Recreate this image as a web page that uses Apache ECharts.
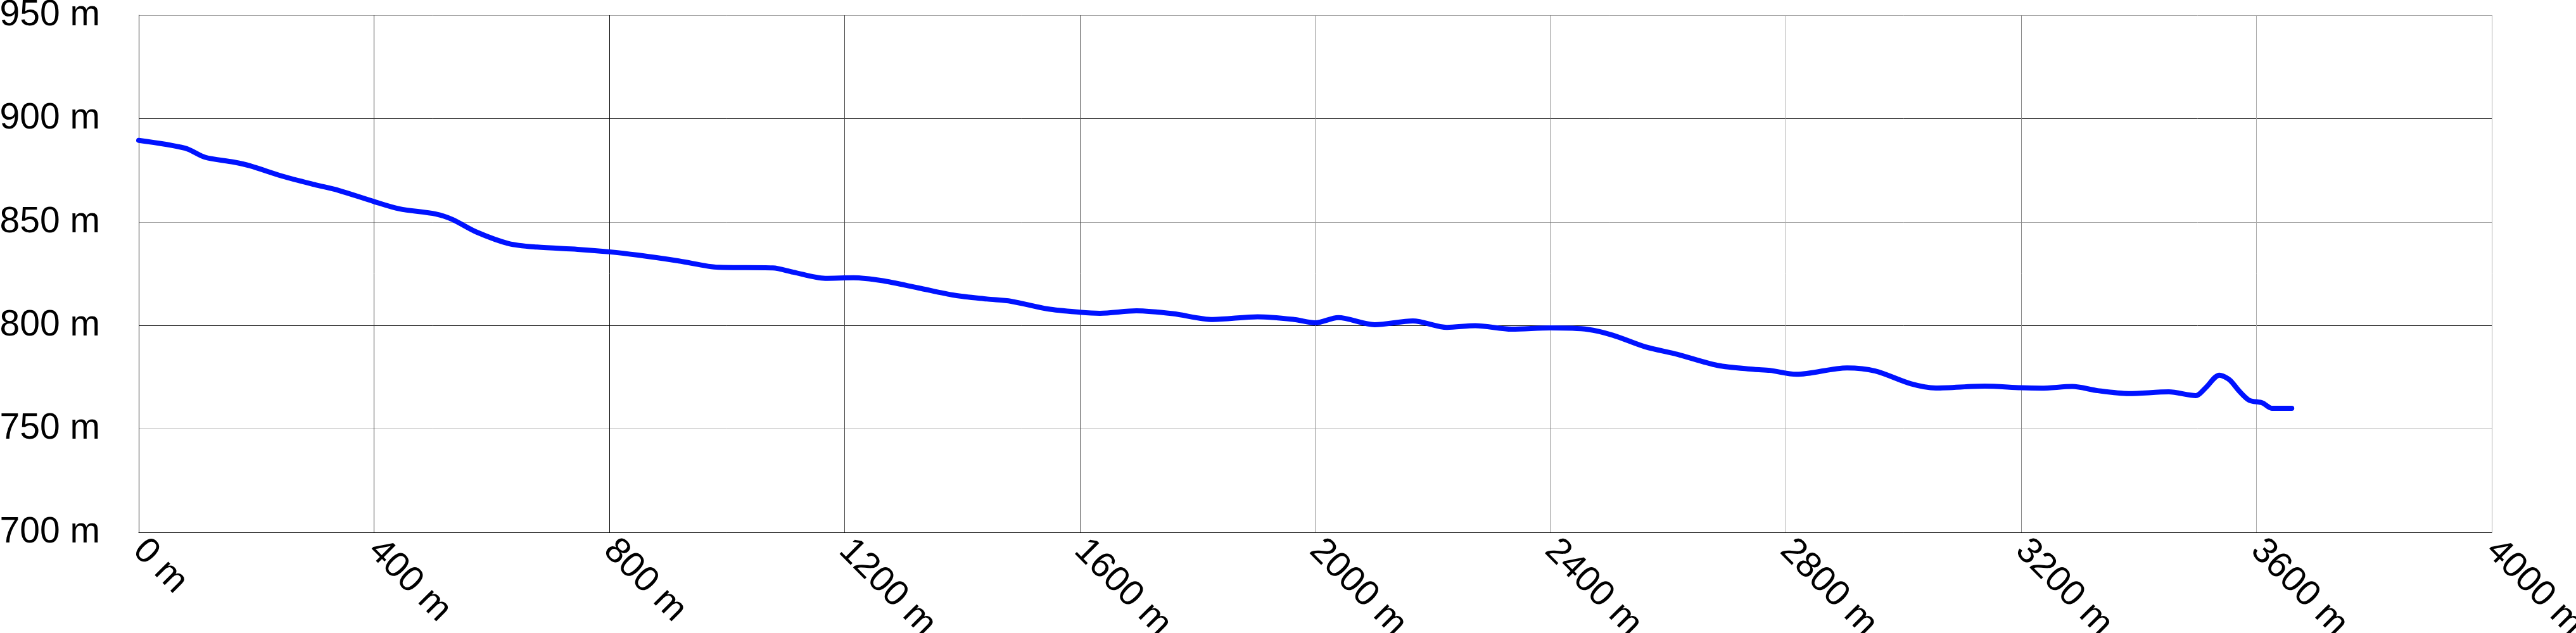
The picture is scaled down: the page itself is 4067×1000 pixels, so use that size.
<!DOCTYPE html>
<html>
<head>
<meta charset="utf-8">
<style>
html,body{margin:0;padding:0;background:#fff;}
#chart{width:4067px;height:1000px;}
</style>
<script src="https://cdn.jsdelivr.net/npm/echarts@6/dist/echarts.min.js"></script>
</head>
<body>
<div id="chart"></div>
<script>
// Distance along route (m)
const distances = [0,79,113,161,189,244,299,340,399,443,505,533,574,629,677,746,800,849,918,986,1078,1112,1167,1215,1263,1325,1387,1442,1483,1545,1600,1634,1696,1758,1826,1902,1964,2000,2039,2101,2166,2224,2272,2334,2400,2464,2506,2561,2615,2684,2746,2773,2818,2904,2952,3013,3055,3138,3200,3234,3287,3330,3383,3451,3497,3513,3537,3554,3571,3588,3610,3626,3660];
// Elevation (m)
const elevations = [889.5,885.7,881.3,879,877.2,872.2,868.1,865.3,860,856.4,853.9,851.3,845.2,839.6,837.9,836.8,835.6,834,831.2,828.1,827.8,825.8,822.8,823.1,821.7,818.2,814.6,812.8,811.7,808,806.4,805.9,807.1,805.7,802.9,804.2,802.9,801.3,803.8,800.4,802.2,799.1,799.9,798.2,798.8,798.1,795.3,789.7,786.1,780.7,778.8,778.3,776.4,779.5,778,771.8,769.8,770.7,769.9,769.7,770.5,768.5,767.1,767.9,766.1,769.7,776,773.8,768.2,763.8,762.6,760,760];
// Axis ranges / ticks
const xMin = 0, xMax = 4000, xStep = 400;
const yMin = 700, yMax = 950, yStep = 50;
const unit = ' m';

const chart = echarts.init(document.getElementById('chart'), null, {renderer: 'canvas'});
const font = "'Liberation Sans', Arial, sans-serif";
const data = distances.map((d, i) => [d, elevations[i]]);

chart.setOption({
  animation: false,
  backgroundColor: '#ffffff',
  grid: {left: 219, right: 133, top: 24, bottom: 159, containLabel: false, outerBoundsMode: 'none'},
  xAxis: {
    type: 'value', min: xMin, max: xMax, interval: xStep,
    axisLine: {show: true, lineStyle: {color: '#000', width: 1}},
    axisTick: {show: false},
    axisLabel: {
      rotate: -45, margin: 20, color: '#000', fontSize: 57, fontFamily: font,
      formatter: v => v + unit
    },
    splitLine: {show: true, lineStyle: {width: 1, color: ['#000','#333','#000','#444','#555','#999','#777','#aaa','#888','#aaa','#aaa']}}
  },
  yAxis: {
    type: 'value', min: yMin, max: yMax, interval: yStep,
    axisLine: {show: true, lineStyle: {color: '#222', width: 1}},
    axisTick: {show: false},
    axisLabel: {
      margin: 61, color: '#000', fontSize: 57, fontFamily: font,
      formatter: v => v + unit
    },
    splitLine: {show: true, lineStyle: {width: 1, color: ['#000','#aaa','#000','#aaa','#000','#aaa']}}
  },
  series: [{
    type: 'line',
    data: data,
    smooth: 0.3,
    showSymbol: false,
    lineStyle: {color: '#0012ff', width: 8, cap: 'round', join: 'round'}
  }]
});
</script>
</body>
</html>
